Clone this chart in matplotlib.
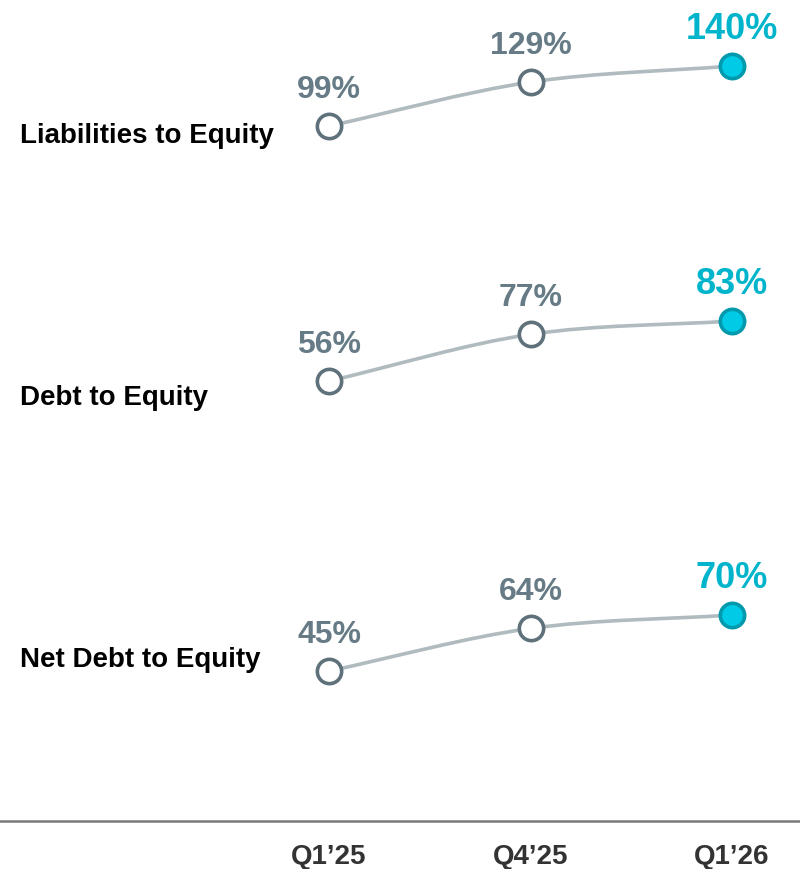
import numpy as np
import matplotlib.pyplot as plt
from matplotlib.path import Path
from matplotlib.patches import PathPatch

plt.rcParams['font.family'] = ['Liberation Sans', 'DejaVu Sans']
plt.rcParams['font.weight'] = 'bold'

quarters = ["Q1\u201925", "Q4\u201925", "Q1\u201926"]
metrics = ["Liabilities to Equity", "Debt to Equity", "Net Debt to Equity"]
liabilities_to_equity = [99, 129, 140]
debt_to_equity = [56, 77, 83]
net_debt_to_equity = [45, 64, 70]
series = [liabilities_to_equity, debt_to_equity, net_debt_to_equity]

W, H = 800, 870
# pixel rows (from top) where each panel's min / max value sits
panel_lo_px = [127, 382, 672]
panel_hi_px = [67, 322, 616]
label_base_px = [143, 405, 667]
x0_px, dx_px = 329, 201.5

GRAY_LINE = "#b0bbbf"
GRAY_MARK = "#5f717a"
GRAY_TEXT = "#667b86"
TEAL_FILL = "#00cbe6"
TEAL_EDGE = "#0399ad"
TEAL_TEXT = "#00b4cc"

fig = plt.figure(figsize=(W / 100, H / 100), dpi=100)

xlim = (-x0_px / dx_px, (W - x0_px) / dx_px)


def smooth_path(xs, ys, tension=0.33):
    xs = np.asarray(xs, float)
    ys = np.asarray(ys, float)
    n = len(xs)
    slopes = np.zeros(n)
    for i in range(n):
        if i == 0:
            slopes[i] = (ys[1] - ys[0]) / (xs[1] - xs[0])
        elif i == n - 1:
            slopes[i] = (ys[-1] - ys[-2]) / (xs[-1] - xs[-2])
        else:
            slopes[i] = (ys[i + 1] - ys[i - 1]) / (xs[i + 1] - xs[i - 1])
    verts = [(xs[0], ys[0])]
    codes = [Path.MOVETO]
    for i in range(n - 1):
        h = (xs[i + 1] - xs[i]) * tension
        verts += [(xs[i] + h, ys[i] + slopes[i] * h),
                  (xs[i + 1] - h, ys[i + 1] - slopes[i + 1] * h),
                  (xs[i + 1], ys[i + 1])]
        codes += [Path.CURVE4] * 3
    return Path(verts, codes)


for k, vals in enumerate(series):
    lo, hi = min(vals), max(vals)
    bottom = 1 - panel_lo_px[k] / H
    top = 1 - panel_hi_px[k] / H
    ax = fig.add_axes([0, bottom, 1, top - bottom])
    ax.set_xlim(*xlim)
    ax.set_ylim(lo, hi)
    ax.axis("off")
    xs = np.arange(len(vals))
    ax.add_patch(PathPatch(smooth_path(xs, vals), facecolor="none",
                           edgecolor=GRAY_LINE, lw=2.6, clip_on=False, zorder=2))
    for i, v in enumerate(vals):
        last = i == len(vals) - 1
        ax.plot(i, v, "o", ms=17.5, mew=2.6, clip_on=False, zorder=3,
                mfc=TEAL_FILL if last else "white",
                mec=TEAL_EDGE if last else GRAY_MARK)
        ax.annotate(f"{v}%", (i, v), xytext=(0, 28 if last else 29),
                    textcoords="offset pixels", ha="center", va="baseline",
                    fontsize=26 if last else 23, fontweight="bold",
                    color=TEAL_TEXT if last else GRAY_TEXT)
    fig.text(20 / W, 1 - label_base_px[k] / H, metrics[k], ha="left",
             va="baseline", fontsize=20, fontweight="bold", color="black")

# bottom axis with quarter labels
axb = fig.add_axes([0, 1 - 822 / H, 1, 0.001])
axb.set_xlim(*xlim)
axb.set_ylim(0, 1)
for s in ["top", "left", "right"]:
    axb.spines[s].set_visible(False)
axb.spines["bottom"].set_color("#7a7a7a")
axb.spines["bottom"].set_linewidth(1.8)
axb.set_yticks([])
axb.set_xticks(range(len(quarters)))
axb.set_xticklabels(quarters, fontsize=20, fontweight="bold", color="#333333")
axb.tick_params(axis="x", length=0, pad=16)

fig.savefig("out.png", dpi=100, facecolor="white")
